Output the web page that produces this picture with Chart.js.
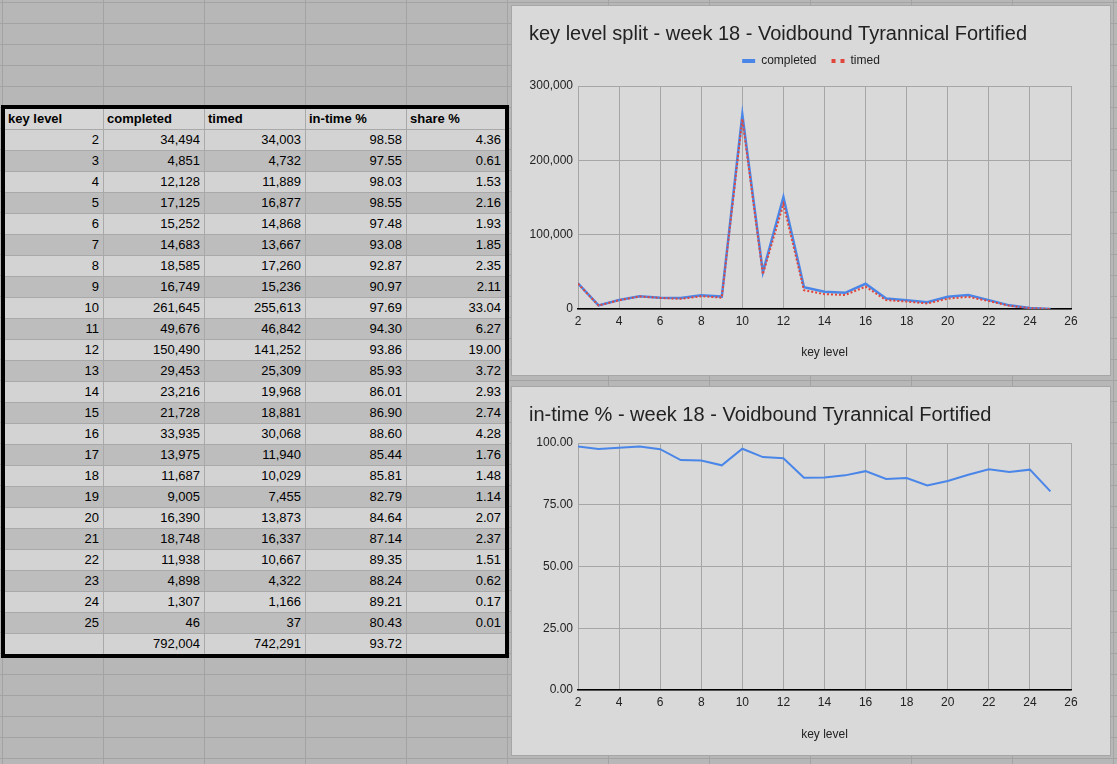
<!DOCTYPE html>
<html>
<head>
<meta charset="utf-8">
<script src="https://cdn.jsdelivr.net/npm/chart.js@4.4.0/dist/chart.umd.min.js"></script>
<style>
html, body { margin: 0; padding: 0; }
body {
   width: 1117px; height: 764px; overflow: hidden; position: relative;
   background: #b7b7b7;
   font-family: "Liberation Sans", Arial, sans-serif;
}
#rows {
   position: absolute; left: 0; top: 0; width: 1117px; height: 764px;
   background-image: repeating-linear-gradient(to bottom, #a3a3a3 0 1px, transparent 1px 21px);
   background-position: 0 2px;
}
#cols {
   position: absolute; left: 2px; top: 0; width: 1115px; height: 764px;
   background-image: repeating-linear-gradient(to right, #a3a3a3 0 1px, transparent 1px 101px);
}
table {
   position: absolute; left: 1px; top: 105px;
   border: 4px solid #000; border-collapse: separate; border-spacing: 0;
   table-layout: fixed; width: 508px;
   font-size: 13px; color: #000;
}
td {
   height: 20px; line-height: 20px; padding: 0 4px 0 3px;
   border-right: 1px solid #a9a9a9; border-bottom: 1px solid #a9a9a9;
   text-align: right; white-space: nowrap; overflow: hidden;
}
td:last-child { border-right: none; }
tr:last-child td { border-bottom: none; }
tr.head td { font-weight: bold; text-align: left; background: #d6d6d6; }
tr.light td { background: #d3d3d3; }
tr.dark td { background: #bdbdbd; }
.box {
   position: absolute; left: 511px; width: 600px;
   background: #d9d9d9; border: 1px solid #a6a6a6; box-sizing: border-box;
}
.box canvas { position: absolute; left: 0; top: 0; }
</style>
</head>
<body>
<div id="rows"></div>
<div id="cols"></div>

<table id="tbl">
   <colgroup>
      <col style="width:99px"><col style="width:101px"><col style="width:101px"><col style="width:101px"><col style="width:98px">
   </colgroup>
   <tbody></tbody>
</table>

<div class="box" style="top:5px;height:371px"><canvas id="splitChart" width="598" height="369"></canvas></div>
<div class="box" style="top:386px;height:370px"><canvas id="inTimeChart" width="598" height="368"></canvas></div>

<script>
//1) DATA//
const headers = ['key level', 'completed', 'timed', 'in-time %', 'share %']
const keyLevels = [2, 3, 4, 5, 6, 7, 8, 9, 10, 11, 12, 13, 14, 15, 16, 17, 18, 19, 20, 21, 22, 23, 24, 25]
const completed = [34494, 4851, 12128, 17125, 15252, 14683, 18585, 16749, 261645, 49676, 150490, 29453,
   23216, 21728, 33935, 13975, 11687, 9005, 16390, 18748, 11938, 4898, 1307, 46]
const timed = [34003, 4732, 11889, 16877, 14868, 13667, 17260, 15236, 255613, 46842, 141252, 25309,
   19968, 18881, 30068, 11940, 10029, 7455, 13873, 16337, 10667, 4322, 1166, 37]
const inTime = [98.58, 97.55, 98.03, 98.55, 97.48, 93.08, 92.87, 90.97, 97.69, 94.30, 93.86, 85.93,
   86.01, 86.90, 88.60, 85.44, 85.81, 82.79, 84.64, 87.14, 89.35, 88.24, 89.21, 80.43]
const share = [4.36, 0.61, 1.53, 2.16, 1.93, 1.85, 2.35, 2.11, 33.04, 6.27, 19.00, 3.72,
   2.93, 2.74, 4.28, 1.76, 1.48, 1.14, 2.07, 2.37, 1.51, 0.62, 0.17, 0.01]
const totalCompleted = 792004
const totalTimed = 742291
const totalInTime = 93.72

const splitTicks = [0, 100000, 200000, 300000]
const inTimeTicks = [0, 25, 50, 75, 100]

//2) TABLE//
const fmtInt = v => v.toLocaleString('en-US')
const fmtDec = v => v.toFixed(2)
const tbody = document.querySelector('#tbl tbody')

function addRow(cls, cells) {
   const tr = document.createElement('tr')
   tr.className = cls
   cells.forEach(c => {
      const td = document.createElement('td')
      td.textContent = c
      tr.appendChild(td)
   })
   tbody.appendChild(tr)
}

addRow('head', headers)
keyLevels.forEach((k, i) => {
   addRow(i % 2 === 0 ? 'light' : 'dark',
      [k, fmtInt(completed[i]), fmtInt(timed[i]), fmtDec(inTime[i]), fmtDec(share[i])])
})
addRow('light', ['', fmtInt(totalCompleted), fmtInt(totalTimed), fmtDec(totalInTime), ''])

//3) CHARTS//
Chart.defaults.font.family = '"Liberation Sans", Arial, sans-serif'
Chart.defaults.font.size = 12
Chart.defaults.color = '#222'
Chart.defaults.animation = false

const gridGray = '#a6a6a6'
const blue = '#4a86e8'
const red = '#e2463a'

const xAxis = (titlePad, height) => ({
   type: 'linear',
   min: 2,
   max: 26,
   ticks: { stepSize: 2, padding: 5, color: '#222' },
   grid: { color: gridGray, drawTicks: false },
   border: { color: '#000', width: 1.5 },
   title: { display: true, text: 'key level', color: '#222', font: { size: 12 }, padding: { top: 0, bottom: titlePad } },
   afterFit: s => { s.height = height }
})

const yAxis = (ticks, fmt) => ({
   min: ticks[0],
   max: ticks[ticks.length - 1],
   afterBuildTicks: s => { s.ticks = ticks.map(v => ({ value: v })) },
   ticks: { padding: 5, callback: fmt, color: '#222' },
   grid: { color: gridGray, drawTicks: false },
   border: { display: false },
   afterFit: s => { s.width = 49 }
})

// empty axes, only used as spacers round the plot
const spacer = (pos, size) => ({
   type: 'linear', position: pos, display: true,
   ticks: { display: false }, grid: { display: false }, border: { display: false },
   afterFit: s => { if (pos === 'top') s.height = size; else s.width = size }
})

const toPoints = vals => keyLevels.map((k, i) => ({ x: k, y: vals[i] }))

const splitChart = new Chart(document.getElementById('splitChart'), {
   type: 'line',
   data: {
      datasets: [
         { label: 'completed', data: toPoints(completed), borderColor: blue, backgroundColor: blue,
           borderWidth: 2.5, pointRadius: 0, order: 1 },
         { label: 'timed', data: toPoints(timed), borderColor: red, backgroundColor: red,
           borderWidth: 2, borderDash: [2, 2], pointRadius: 0, order: 0 }
      ]
   },
   options: {
      responsive: false,
      layout: { padding: { left: 17, right: 17, top: 0, bottom: 0 } },
      plugins: {
         title: {
            display: true, text: 'key level split - week 18 - Voidbound Tyrannical Fortified',
            align: 'start', color: '#222', font: { size: 20, weight: 'normal' },
            padding: { top: 16, bottom: -6 }
         },
         legend: {
            align: 'center',
            labels: {
               usePointStyle: true, pointStyle: 'line', pointStyleWidth: 13, boxHeight: 12,
               padding: 15, color: '#222', font: { size: 12 },
               sort: (a, b) => a.datasetIndex - b.datasetIndex,
               generateLabels: chart => Chart.defaults.plugins.legend.labels.generateLabels(chart).map(l => ({
                  ...l, lineWidth: 4, lineDash: l.datasetIndex === 1 ? [4, 5] : []
               }))
            }
         },
         tooltip: { enabled: false }
      },
      scales: {
         x: xAxis(15, 66),
         top: spacer('top', 9),
         y: yAxis(splitTicks, v => fmtInt(v)),
         right: spacer('right', 22)
      }
   }
})

const inTimeChart = new Chart(document.getElementById('inTimeChart'), {
   type: 'line',
   data: {
      datasets: [
         { label: 'in-time %', data: toPoints(inTime), borderColor: blue, backgroundColor: blue,
           borderWidth: 2, pointRadius: 0 }
      ]
   },
   options: {
      responsive: false,
      layout: { padding: { left: 17, right: 17, top: 0, bottom: 0 } },
      plugins: {
         title: {
            display: true, text: 'in-time % - week 18 - Voidbound Tyrannical Fortified',
            align: 'start', color: '#222', font: { size: 20, weight: 'normal' },
            padding: { top: 16, bottom: 0 }
         },
         legend: { display: false },
         tooltip: { enabled: false }
      },
      scales: {
         x: xAxis(13, 65),
         top: spacer('top', 16),
         y: yAxis(inTimeTicks, v => fmtDec(v)),
         right: spacer('right', 22)
      }
   }
})
</script>
</body>
</html>
